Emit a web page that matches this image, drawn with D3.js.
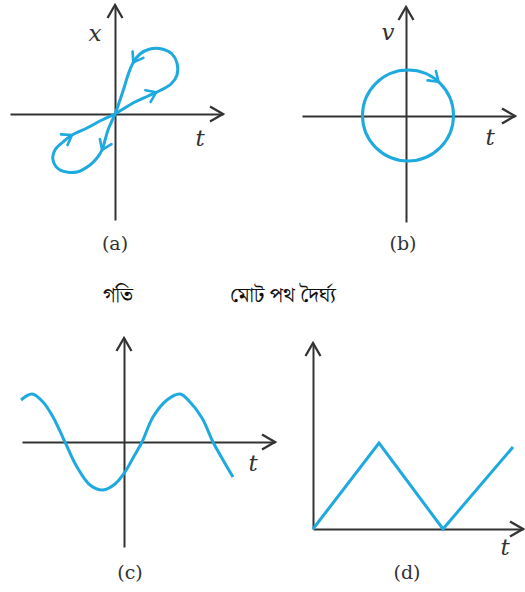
<!DOCTYPE html>
<html>
<head>
<meta charset="utf-8">
<script src="https://cdn.jsdelivr.net/npm/d3@7"></script>
<style>
  body { margin: 0; background: #fff; }
  .axis path { stroke: #333; stroke-width: 2; }
  .axis text { display: none; }
</style>
</head>
<body>
<svg id="fig" width="525" height="592"></svg>
<script>
// ---- data -------------------------------------------------------------
// (a) figure-eight loop in the x–t plane, listed in the direction of motion
const loopT = [0, 1.8, 3.3, 4.6, 5.6, 6.2, 6.2, 5.7, 4.7, 3.5, 2.5, 1.8, 1.3, 0.9, 0.5,
               0, -0.7, -1.3, -1.8, -2.5, -3.8, -5.5, -6.2, -6.0, -5.2, -4.3, -2.8, -1.3];
const loopX = [0, 1.1, 1.8, 2.4, 3.0, 3.9, 5.1, 6.0, 6.5, 6.5, 6.0, 5.1, 3.9, 2.6, 1.4,
               0, -1.6, -3.6, -4.4, -5.1, -5.8, -5.6, -4.6, -3.6, -2.8, -2.1, -1.4, -0.6];
// arrowheads on the loop (t, x)
const loopArrowT = [4.0, 1.8, -1.3, -4.3];
const loopArrowX = [2.4, 5.2, -3.6, -2.1];

// (b) circle in the v–t plane
const circleCenterT = 0.2;
const circleCenterV = 0.05;
const circleRadius = 4.55;
const circleArrowDeg = [42];   // clockwise from the top

// (c) wave in the speed–t plane
const waveT = [-10.3, -9.2, -8.1, -7.1, -5.9, -4.7, -3.4, -2.1, -0.9, 0.1,
               0.9, 1.8, 2.9, 4.3, 5.6, 6.6, 7.8, 8.9, 9.9, 10.9];
const waveV = [4.2, 4.8, 4.0, 2.5, 0, -2.5, -4.3, -4.8, -4.2, -3.0,
               -1.6, 0, 2.5, 4.2, 4.8, 4.0, 2.4, 0, -1.8, -3.5];

// (d) zig-zag against t
const zigT = [0, 6.6, 13.0, 20.0];
const zigS = [0, 8.6, 0, 8.2];

const axisLabels = { a: ["x", "t"], b: ["v", "t"], c: ["", "t"], d: ["", "t"] };
const captions = ["(a)", "(b)", "(c)", "(d)"];
const headings = ["গতি", "মোট পথ দৈর্ঘ্য"];

// ---- drawing ------------------------------------------------------------
const BLUE = "#1ea9df";
const INK = "#333";
const svg = d3.select("#fig");

// each panel: origin in pixels, axis extents in data units (10 px per unit)
function panel(ox, oy, tMin, tMax, yMin, yMax) {
  const sx = d3.scaleLinear().domain([tMin, tMax]).range([ox + tMin * 10, ox + tMax * 10]);
  const sy = d3.scaleLinear().domain([yMin, yMax]).range([oy - yMin * 10, oy - yMax * 10]);
  const g = svg.append("g");
  const ax = sx(0), ay = sy(0);
  g.append("g").attr("class", "axis")
    .attr("transform", `translate(0,${ay})`)
    .call(d3.axisBottom(sx).tickValues([]).tickSizeOuter(0));
  g.append("g").attr("class", "axis")
    .attr("transform", `translate(${ax},0)`)
    .call(d3.axisLeft(sy).tickValues([]).tickSizeOuter(0));
  // open arrowheads at the axis ends
  const tx = sx(tMax), ty = sy(yMax);
  g.append("path")
    .attr("d", `M${tx - 13},${ay - 7.5}L${tx},${ay}L${tx - 13},${ay + 7.5}`)
    .attr("fill", "none").attr("stroke", INK).attr("stroke-width", 2.3)
    .attr("stroke-linejoin", "miter");
  g.append("path")
    .attr("d", `M${ax - 7.5},${ty + 13}L${ax},${ty}L${ax + 7.5},${ty + 13}`)
    .attr("fill", "none").attr("stroke", INK).attr("stroke-width", 2.3)
    .attr("stroke-linejoin", "miter");
  return { g, sx, sy };
}

function chevron(g, x, y, dx, dy) {
  const len = Math.hypot(dx, dy) || 1;
  const ux = dx / len, uy = dy / len;
  const arm = 11, a = 35 * Math.PI / 180;
  const c = Math.cos(a), s = Math.sin(a);
  const p1 = [x - arm * (ux * c - uy * s), y - arm * (uy * c + ux * s)];
  const p2 = [x - arm * (ux * c + uy * s), y - arm * (uy * c - ux * s)];
  g.append("path")
    .attr("d", `M${p1[0]},${p1[1]}L${x},${y}L${p2[0]},${p2[1]}`)
    .attr("fill", "none").attr("stroke", BLUE).attr("stroke-width", 2.6)
    .attr("stroke-linecap", "round").attr("stroke-linejoin", "round");
}

function arrowsOnPath(g, pathNode, targets) {
  const total = pathNode.getTotalLength();
  targets.forEach(([px, py]) => {
    let best = 0, bestD = Infinity;
    for (let l = 0; l <= total; l += 0.5) {
      const p = pathNode.getPointAtLength(l);
      const d = (p.x - px) ** 2 + (p.y - py) ** 2;
      if (d < bestD) { bestD = d; best = l; }
    }
    const p = pathNode.getPointAtLength(best);
    const q = pathNode.getPointAtLength(Math.min(total, best + 1));
    const r = pathNode.getPointAtLength(Math.max(0, best - 1));
    chevron(g, p.x, p.y, q.x - r.x, q.y - r.y);
  });
}

function italicLabel(g, x, y, text) {
  g.append("text").attr("x", x).attr("y", y)
    .attr("text-anchor", "middle").attr("dominant-baseline", "central")
    .attr("font-family", "'DejaVu Serif', 'Liberation Serif', serif")
    .attr("font-style", "italic").attr("font-size", 23).attr("fill", INK)
    .text(text);
}

// (a)
{
  const { g, sx, sy } = panel(115, 114, -10.5, 10.8, -10.6, 10.9);
  const line = d3.line().x(i => sx(loopT[i])).y(i => sy(loopX[i]))
    .curve(d3.curveCatmullRomClosed.alpha(0.5));
  const path = g.append("path").attr("d", line(d3.range(loopT.length)))
    .attr("fill", "none").attr("stroke", BLUE).attr("stroke-width", 3)
    .attr("stroke-linejoin", "round");
  arrowsOnPath(g, path.node(), loopArrowT.map((t, i) => [sx(t), sy(loopArrowX[i])]));
  italicLabel(g, sx(-2.0), sy(8.1), axisLabels.a[0]);
  italicLabel(g, sx(8.5), sy(-2.4), axisLabels.a[1]);
}

// (b)
{
  const { g, sx, sy } = panel(406, 116, -10.4, 10.9, -10.6, 10.9);
  const cx = sx(circleCenterT), cy = sy(circleCenterV);
  const r = sx(circleCenterT + circleRadius) - cx;
  g.append("circle").attr("cx", cx).attr("cy", cy).attr("r", r)
    .attr("fill", "none").attr("stroke", BLUE).attr("stroke-width", 3);
  circleArrowDeg.forEach(deg => {
    const a = deg * Math.PI / 180;
    chevron(g, cx + r * Math.sin(a), cy - r * Math.cos(a), Math.cos(a), Math.sin(a));
  });
  italicLabel(g, sx(-1.8), sy(8.4), axisLabels.b[0]);
  italicLabel(g, sx(8.4), sy(-2.1), axisLabels.b[1]);
}

// (c)
{
  const { g, sx, sy } = panel(124, 442, -10.2, 15.1, -10.5, 10.4);
  const line = d3.line().x(i => sx(waveT[i])).y(i => sy(waveV[i]))
    .curve(d3.curveCatmullRom.alpha(0.5));
  g.append("path").attr("d", line(d3.range(waveT.length)))
    .attr("fill", "none").attr("stroke", BLUE).attr("stroke-width", 3)
    .attr("stroke-linecap", "butt");
  italicLabel(g, sx(12.9), sy(-2.1), axisLabels.c[1]);
}

// (d)
{
  const { g, sx, sy } = panel(313, 529, 0, 21.0, 0, 18.6);
  const line = d3.line().x(i => sx(zigT[i])).y(i => sy(zigS[i]));
  g.append("path").attr("d", line(d3.range(zigT.length)))
    .attr("fill", "none").attr("stroke", BLUE).attr("stroke-width", 3)
    .attr("stroke-linejoin", "miter");
  italicLabel(g, sx(19.2), sy(-1.8), axisLabels.d[1]);
}

// captions under each panel
const capPos = [[115, 243], [403, 243], [130, 572], [407, 572]];
captions.forEach((c, i) => {
  svg.append("text").attr("x", capPos[i][0]).attr("y", capPos[i][1])
    .attr("text-anchor", "middle").attr("dominant-baseline", "central")
    .attr("font-family", "'DejaVu Serif', 'Liberation Serif', serif")
    .attr("font-size", 19).attr("fill", INK).text(c);
});

// Bengali headings
const headPos = [[118, 296], [283, 296]];
headings.forEach((h, i) => {
  svg.append("text").attr("x", headPos[i][0]).attr("y", headPos[i][1])
    .attr("text-anchor", "middle").attr("dominant-baseline", "central")
    .attr("font-family", "'Noto Serif Bengali', 'Noto Sans Bengali', 'Lohit Bengali', 'FreeSerif', sans-serif")
    .attr("font-size", 21).attr("fill", "#111").text(h);
});
</script>
</body>
</html>
